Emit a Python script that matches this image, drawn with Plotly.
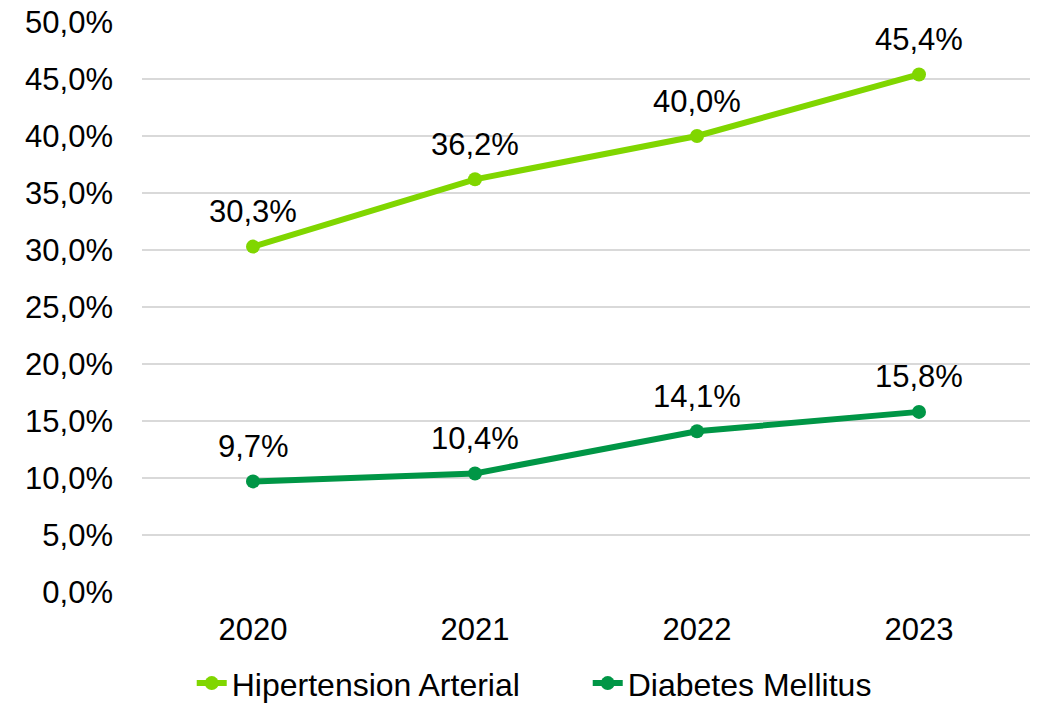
import plotly.graph_objects as go

years = ["2020", "2021", "2022", "2023"]
hipertension = [0.303, 0.362, 0.400, 0.454]
diabetes = [0.097, 0.104, 0.141, 0.158]

series = [
    ("Hipertension Arterial", hipertension, "rgb(128, 214, 0)"),
    ("Diabetes Mellitus", diabetes, "rgb(0, 150, 70)"),
]


def pct(v):
    return f"{v * 100:.1f}%".replace(".", ",")


fig = go.Figure()
for name, vals, color in series:
    fig.add_trace(go.Scatter(
        x=years, y=vals, name=name, mode="lines+markers",
        line=dict(color=color, width=6),
        marker=dict(color=color, size=14),
    ))
    # data labels above each point (category index used for x)
    for i, v in enumerate(vals):
        fig.add_annotation(
            x=i, y=v, text=pct(v), showarrow=False, yshift=35,
            font=dict(size=31, color="black"),
        )

fig.update_layout(
    width=1043, height=703,
    margin=dict(l=142, r=13, t=22, b=111),
    paper_bgcolor="white", plot_bgcolor="white",
    separators=",.",
    font=dict(family="Liberation Sans, Arial, sans-serif", size=31, color="black"),
    showlegend=True,
    legend=dict(orientation="h", yref="container", x=0.056, xanchor="left",
                y=0.028, yanchor="middle", font=dict(size=32), tracegroupgap=0,
                itemwidth=30, entrywidth=351),
    xaxis=dict(type="category", range=[-0.5, 3.5], showgrid=False, zeroline=False,
               showline=False, ticks="", ticklabelstandoff=16, automargin=False),
    yaxis=dict(range=[0, 0.5], dtick=0.05, tickformat=".1%", gridcolor="#d9d9d9",
               gridwidth=2, zeroline=False, showline=False, ticks="",
               ticklabelstandoff=28, automargin=False),
)

fig.write_html("out.html", config={"displayModeBar": False},
               post_script="document.body.style.margin='0';")
